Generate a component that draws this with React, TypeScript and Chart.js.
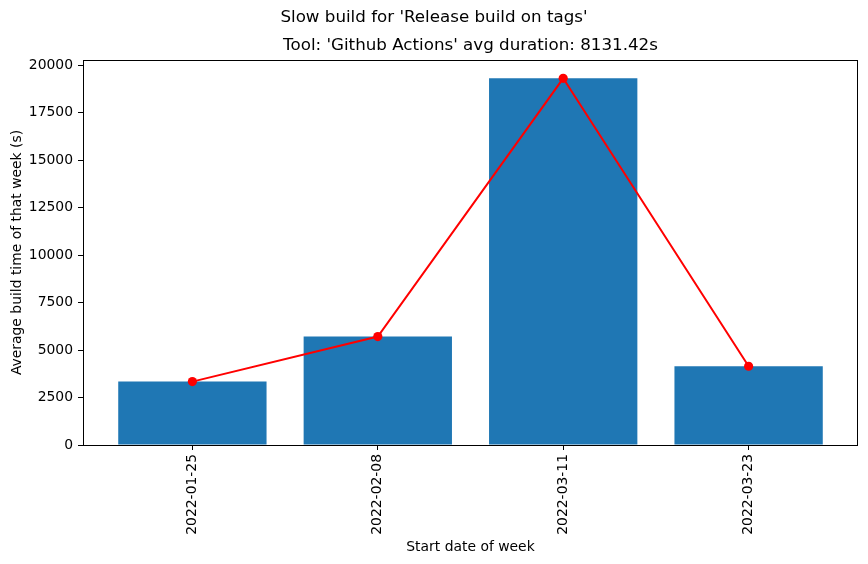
import React, { useEffect, useRef } from "react";
import { Chart, registerables } from "chart.js";

Chart.register(...registerables);

const weeks = ["2022-01-25", "2022-02-08", "2022-03-11", "2022-03-23"];
const avgBuildTimes = [3340, 5715, 19320, 4150];
const yTickValues = [0, 2500, 5000, 7500, 10000, 12500, 15000, 17500, 20000];
const suptitle = "Slow build for 'Release build on tags'";
const axesTitle = "Tool: 'Github Actions' avg duration: 8131.42s";
const xLabel = "Start date of week";
const yLabel = "Average build time of that week (s)";

const FONT = "'DejaVu Sans', sans-serif";

export default function App() {
  const ref = useRef<HTMLCanvasElement | null>(null);

  useEffect(() => {
    document.body.style.margin = "0";
    const canvas = ref.current!;
    const titlePlugin = {
      id: "mplTitles",
      afterDraw(chart: any) {
        const ctx = chart.ctx;
        const a = chart.chartArea;
        ctx.save();
        ctx.strokeStyle = "#000";
        ctx.lineWidth = 1;
        ctx.strokeRect(Math.round(a.left) + 0.5, Math.round(a.top) + 0.5, Math.round(a.right - a.left) - 1, Math.round(a.bottom - a.top));
        ctx.fillStyle = "#000";
        ctx.textAlign = "center";
        ctx.textBaseline = "middle";
        ctx.font = `16.7px ${FONT}`;
        ctx.fillText(suptitle, chart.width / 2, 18);
        ctx.fillText(axesTitle, (a.left + a.right) / 2, 46);
        ctx.restore();
      },
    };

    const chart = new Chart(canvas, {
      type: "bar",
      data: {
        datasets: [
          {
            type: "line",
            data: avgBuildTimes.map((v, i) => ({ x: i, y: v })),
            borderColor: "#ff0000",
            backgroundColor: "#ff0000",
            borderWidth: 2,
            pointRadius: 4.6,
            pointBackgroundColor: "#ff0000",
            pointBorderWidth: 0,
            order: 0,
          } as any,
          {
            type: "bar",
            data: avgBuildTimes.map((v, i) => ({ x: i, y: v })),
            backgroundColor: "#1f77b4",
            borderColor: "#1f77b4",
            borderWidth: 0,
            barPercentage: 0.8,
            categoryPercentage: 1,
            order: 1,
          },
        ],
      },
      plugins: [titlePlugin],
      options: {
        animation: false,
        responsive: false,
        maintainAspectRatio: false,
        layout: { padding: { top: 60, right: 10, bottom: 0, left: 0 } },
        plugins: { legend: { display: false }, tooltip: { enabled: false }, title: { display: false } },
        scales: {
          x: {
            type: "linear",
            min: -0.59,
            max: 3.59,
            offset: false,
            grid: { offset: false, drawOnChartArea: false, drawTicks: true, tickLength: 5, color: "#000" },
            border: { display: false },
            afterBuildTicks: (s: any) => {
              s.ticks = weeks.map((_, i) => ({ value: i }));
            },
            afterFit: (s: any) => {
              s.height = 119;
            },
            ticks: {
              autoSkip: false,
              minRotation: 90,
              maxRotation: 90,
              padding: 4,
              color: "#000",
              font: { family: FONT, size: 13.9 },
              callback: (v: any) => weeks[v as number] ?? "",
            },
            title: {
              display: true,
              text: xLabel,
              color: "#000",
              font: { family: FONT, size: 13.9 },
              padding: { top: 0, bottom: 8 },
            },
          },
          y: {
            type: "linear",
            min: 0,
            max: 20286,
            grid: { drawOnChartArea: false, drawTicks: true, tickLength: 5, color: "#000" },
            border: { display: false },
            afterBuildTicks: (s: any) => {
              s.ticks = yTickValues.map((v) => ({ value: v }));
            },
            afterFit: (s: any) => {
              s.width = 83;
            },
            ticks: {
              padding: 5,
              color: "#000",
              font: { family: FONT, size: 13.9 },
              callback: (v: any) => String(v),
            },
            title: {
              display: true,
              text: yLabel,
              color: "#000",
              font: { family: FONT, size: 13.9 },
              padding: { top: 9, bottom: 9 },
            },
          },
        },
      },
    } as any);
    return () => chart.destroy();
  }, []);

  return (
    <div style={{ position: "absolute", left: 0, top: 0, width: 868, height: 564, background: "#fff" }}>
      <canvas ref={ref} width={868} height={564} style={{ width: 868, height: 564 }} />
    </div>
  );
}
